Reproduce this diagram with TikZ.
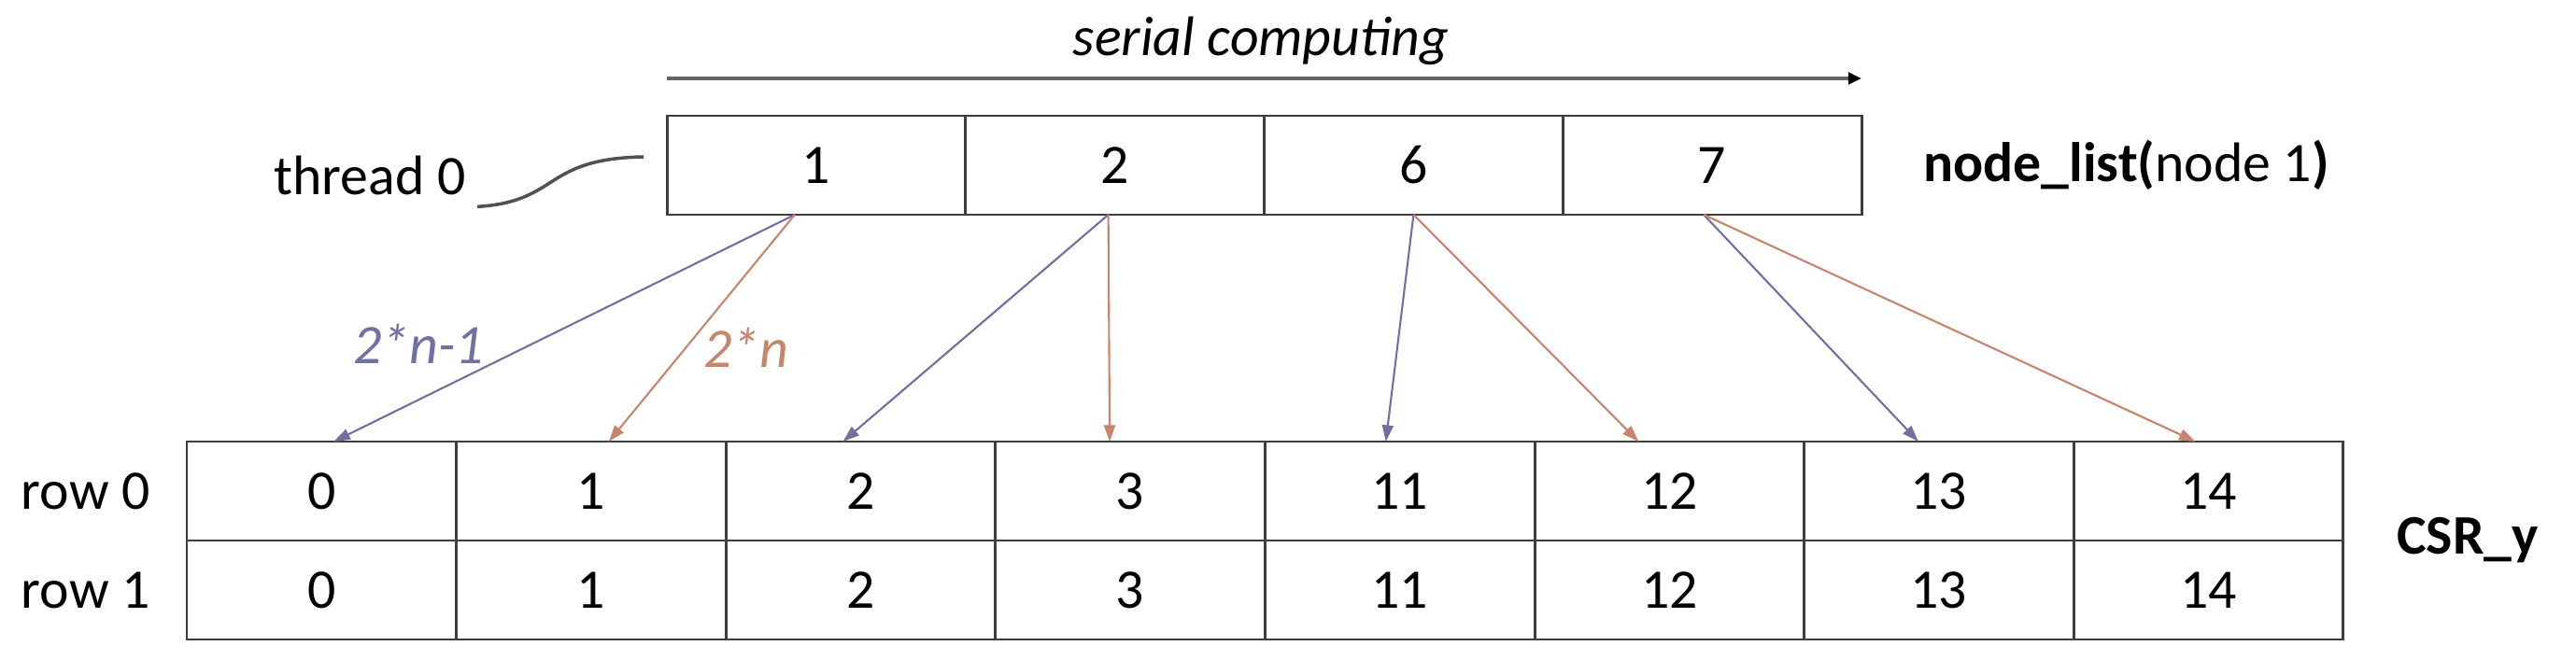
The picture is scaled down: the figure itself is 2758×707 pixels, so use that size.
\documentclass[tikz,border=0pt]{standalone}
\usepackage{fontspec}
\setmainfont{Carlito}
\usetikzlibrary{arrows.meta,calc,positioning}

\definecolor{boxcol}{RGB}{62,62,62}
\definecolor{oddcol}{RGB}{112,112,162}
\definecolor{evencol}{RGB}{198,134,108}

\begin{document}
\begin{tikzpicture}[x=0.1mm,y=-0.1mm,font=\fontsize{17}{20}\selectfont]
		\tikzstyle{cell}=[draw=boxcol, line width=0.85pt, inner sep=0pt, outer sep=0pt, minimum height=10.6mm]
		\tikzstyle{listcell}=[cell, minimum width=31.975mm]
		\tikzstyle{csrcell}=[cell, minimum width=28.86mm]
		\tikzstyle{oddarr}=[draw=oddcol, line width=0.6pt, -{Triangle[length=5pt,width=3.4pt]}]
		\tikzstyle{evenarr}=[draw=evencol, line width=0.6pt, -{Triangle[length=5pt,width=3.4pt]}]
		
		\useasboundingbox (0,0) rectangle (2758,707);
		
		% node list of node 1
		\node[listcell] (n1) at (873.9,177) {1};
		\node[listcell] (n2) at (1193.6,177) {2};
		\node[listcell] (n6) at (1513.4,177) {6};
		\node[listcell] (n7) at (1833.1,177) {7};
		\node[right=5.4mm of n7] (nlist) {\textbf{node\_list(}node 1\textbf{)}};
		
		\draw[draw=boxcol!80, line width=1.1pt, -{Triangle[length=4pt,width=3.6pt,color=black]}] ([yshift=4mm]n1.north west) -- ([yshift=4mm]n7.north east);
		\node (serial) at (1350,44) {\itshape serial computing};
		
		\node (thread) at (396,188) {thread 0};
		\coordinate (tp) at ($(n1.west)+(-25,-9)$);
		\draw[boxcol!90, line width=1pt] (thread.south east) .. controls (600,216) and (580,170) .. (tp);
		
		% CSR_y
		\node[csrcell] (r00) at (344.3,526) {0};
		\node[csrcell] (r01) at (632.9,526) {1};
		\node[csrcell] (r02) at (921.5,526) {2};
		\node[csrcell] (r03) at (1210.1,526) {3};
		\node[csrcell] (r04) at (1498.7,526) {11};
		\node[csrcell] (r05) at (1787.3,526) {12};
		\node[csrcell] (r06) at (2075.9,526) {13};
		\node[csrcell] (r07) at (2364.5,526) {14};
		
		\node[csrcell] (r10) at (344.3,632) {0};
		\node[csrcell] (r11) at (632.9,632) {1};
		\node[csrcell] (r12) at (921.5,632) {2};
		\node[csrcell] (r13) at (1210.1,632) {3};
		\node[csrcell] (r14) at (1498.7,632) {11};
		\node[csrcell] (r15) at (1787.3,632) {12};
		\node[csrcell] (r16) at (2075.9,632) {13};
		\node[csrcell] (r17) at (2364.5,632) {14};
		
		\node[left=2.7mm of r00] (row0) {row 0};
		\node[left=2.7mm of r10] (row1) {row 1};
		\node[anchor=west] (csr) at ($(r07.south east)+(45,0)$) {\textbf{CSR\_y}};
		
		% 2*n-1 and 2*n
		\draw[oddarr] ([xshift=-2.3mm]n1.south) -- ([xshift=1.3mm]r00.north);
		\draw[evenarr] ([xshift=-2.3mm]n1.south) -- ([xshift=1.9mm]r01.north);
		\draw[oddarr] ([xshift=-0.7mm]n2.south) -- ([xshift=-1.9mm]r02.north);
		\draw[evenarr] ([xshift=-0.7mm]n2.south) -- ([xshift=-2.2mm]r03.north);
		\draw[oddarr] (n6.south) -- ([xshift=-1.5mm]r04.north);
		\draw[evenarr] (n6.south) -- ([xshift=-3.3mm]r05.north);
		\draw[oddarr] ([xshift=-0.9mm]n7.south) -- ([xshift=-2.2mm]r06.north);
		\draw[evenarr] ([xshift=-0.9mm]n7.south) -- ([xshift=-1.4mm]r07.north);
		
		\node[oddcol] (lodd) at (448,368) {\itshape 2*n-1};
		\node[evencol] (leven) at (799,372) {\itshape 2*n};
	\end{tikzpicture}
\end{document}
